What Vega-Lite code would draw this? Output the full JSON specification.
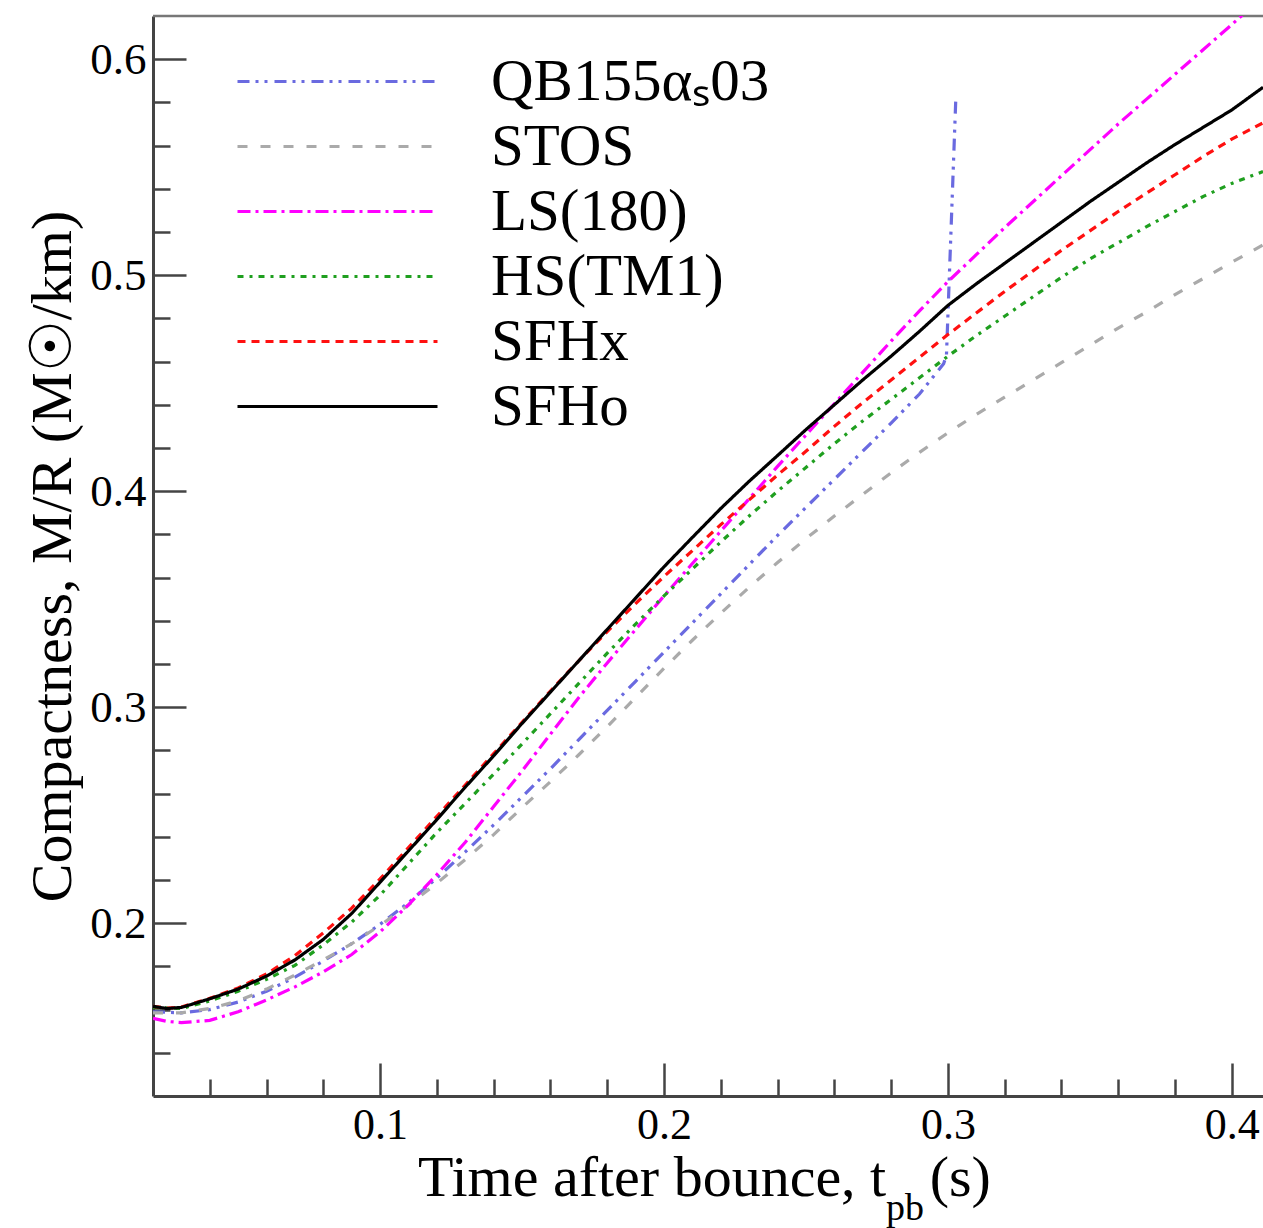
{
  "$schema": "https://vega.github.io/schema/vega-lite/v6.json",
  "width": 1110,
  "height": 1080,
  "autosize": {"type": "none"},
  "padding": {"left": 153, "top": 16, "right": 0, "bottom": 132},
  "background": "white",
  "config": {"view": {"stroke": null}, "font": "Liberation Serif"},
  "title": {"text": "pb", "orient": "bottom", "anchor": "start", "frame": "group", "fontSize": 38, "font": "Liberation Serif", "fontWeight": "normal", "color": "black", "dx": 733, "offset": 13, "baseline": "alphabetic"},
  "datasets": {
    "curves": [
      {"eos": "QB155αₛ03", "t": 0.02, "c": 0.1590}, {"eos": "QB155αₛ03", "t": 0.03, "c": 0.1585}, {"eos": "QB155αₛ03", "t": 0.04, "c": 0.1600}, {"eos": "QB155αₛ03", "t": 0.05, "c": 0.1635}, {"eos": "QB155αₛ03", "t": 0.06, "c": 0.1685}, {"eos": "QB155αₛ03", "t": 0.07, "c": 0.1750}, {"eos": "QB155αₛ03", "t": 0.08, "c": 0.1825}, {"eos": "QB155αₛ03", "t": 0.09, "c": 0.1905}, {"eos": "QB155αₛ03", "t": 0.10, "c": 0.1995}, {"eos": "QB155αₛ03", "t": 0.11, "c": 0.2095}, {"eos": "QB155αₛ03", "t": 0.12, "c": 0.2210}, {"eos": "QB155αₛ03", "t": 0.13, "c": 0.2330}, {"eos": "QB155αₛ03", "t": 0.14, "c": 0.2455}, {"eos": "QB155αₛ03", "t": 0.15, "c": 0.2585}, {"eos": "QB155αₛ03", "t": 0.16, "c": 0.2715}, {"eos": "QB155αₛ03", "t": 0.17, "c": 0.2850}, {"eos": "QB155αₛ03", "t": 0.18, "c": 0.2985}, {"eos": "QB155αₛ03", "t": 0.19, "c": 0.3120}, {"eos": "QB155αₛ03", "t": 0.20, "c": 0.3255}, {"eos": "QB155αₛ03", "t": 0.21, "c": 0.3390}, {"eos": "QB155αₛ03", "t": 0.22, "c": 0.3525}, {"eos": "QB155αₛ03", "t": 0.23, "c": 0.3660}, {"eos": "QB155αₛ03", "t": 0.24, "c": 0.3795}, {"eos": "QB155αₛ03", "t": 0.25, "c": 0.3925}, {"eos": "QB155αₛ03", "t": 0.26, "c": 0.4055}, {"eos": "QB155αₛ03", "t": 0.27, "c": 0.4185}, {"eos": "QB155αₛ03", "t": 0.28, "c": 0.4315}, {"eos": "QB155αₛ03", "t": 0.29, "c": 0.4450}, {"eos": "QB155αₛ03", "t": 0.2985, "c": 0.4590}, {"eos": "QB155αₛ03", "t": 0.2995, "c": 0.4630}, {"eos": "QB155αₛ03", "t": 0.3028, "c": 0.5820},
      {"eos": "STOS", "t": 0.02, "c": 0.1585}, {"eos": "STOS", "t": 0.03, "c": 0.1585}, {"eos": "STOS", "t": 0.04, "c": 0.1605}, {"eos": "STOS", "t": 0.05, "c": 0.1640}, {"eos": "STOS", "t": 0.06, "c": 0.1695}, {"eos": "STOS", "t": 0.07, "c": 0.1760}, {"eos": "STOS", "t": 0.08, "c": 0.1830}, {"eos": "STOS", "t": 0.09, "c": 0.1905}, {"eos": "STOS", "t": 0.10, "c": 0.1990}, {"eos": "STOS", "t": 0.11, "c": 0.2085}, {"eos": "STOS", "t": 0.12, "c": 0.2185}, {"eos": "STOS", "t": 0.13, "c": 0.2295}, {"eos": "STOS", "t": 0.14, "c": 0.2410}, {"eos": "STOS", "t": 0.15, "c": 0.2535}, {"eos": "STOS", "t": 0.16, "c": 0.2655}, {"eos": "STOS", "t": 0.17, "c": 0.2780}, {"eos": "STOS", "t": 0.18, "c": 0.2910}, {"eos": "STOS", "t": 0.19, "c": 0.3045}, {"eos": "STOS", "t": 0.20, "c": 0.3180}, {"eos": "STOS", "t": 0.21, "c": 0.3310}, {"eos": "STOS", "t": 0.22, "c": 0.3435}, {"eos": "STOS", "t": 0.23, "c": 0.3555}, {"eos": "STOS", "t": 0.24, "c": 0.3670}, {"eos": "STOS", "t": 0.25, "c": 0.3780}, {"eos": "STOS", "t": 0.26, "c": 0.3885}, {"eos": "STOS", "t": 0.27, "c": 0.3985}, {"eos": "STOS", "t": 0.28, "c": 0.4085}, {"eos": "STOS", "t": 0.29, "c": 0.4180}, {"eos": "STOS", "t": 0.30, "c": 0.4270}, {"eos": "STOS", "t": 0.31, "c": 0.4355}, {"eos": "STOS", "t": 0.32, "c": 0.4435}, {"eos": "STOS", "t": 0.33, "c": 0.4515}, {"eos": "STOS", "t": 0.34, "c": 0.4595}, {"eos": "STOS", "t": 0.35, "c": 0.4675}, {"eos": "STOS", "t": 0.36, "c": 0.4755}, {"eos": "STOS", "t": 0.37, "c": 0.4830}, {"eos": "STOS", "t": 0.38, "c": 0.4910}, {"eos": "STOS", "t": 0.39, "c": 0.4985}, {"eos": "STOS", "t": 0.40, "c": 0.5060}, {"eos": "STOS", "t": 0.411, "c": 0.5140},
      {"eos": "LS(180)", "t": 0.02, "c": 0.1560}, {"eos": "LS(180)", "t": 0.025, "c": 0.1545}, {"eos": "LS(180)", "t": 0.03, "c": 0.1540}, {"eos": "LS(180)", "t": 0.04, "c": 0.1550}, {"eos": "LS(180)", "t": 0.05, "c": 0.1590}, {"eos": "LS(180)", "t": 0.06, "c": 0.1645}, {"eos": "LS(180)", "t": 0.07, "c": 0.1705}, {"eos": "LS(180)", "t": 0.08, "c": 0.1775}, {"eos": "LS(180)", "t": 0.09, "c": 0.1855}, {"eos": "LS(180)", "t": 0.10, "c": 0.1960}, {"eos": "LS(180)", "t": 0.11, "c": 0.2085}, {"eos": "LS(180)", "t": 0.12, "c": 0.2225}, {"eos": "LS(180)", "t": 0.13, "c": 0.2375}, {"eos": "LS(180)", "t": 0.14, "c": 0.2540}, {"eos": "LS(180)", "t": 0.15, "c": 0.2705}, {"eos": "LS(180)", "t": 0.16, "c": 0.2875}, {"eos": "LS(180)", "t": 0.17, "c": 0.3045}, {"eos": "LS(180)", "t": 0.18, "c": 0.3205}, {"eos": "LS(180)", "t": 0.19, "c": 0.3360}, {"eos": "LS(180)", "t": 0.20, "c": 0.3515}, {"eos": "LS(180)", "t": 0.21, "c": 0.3665}, {"eos": "LS(180)", "t": 0.22, "c": 0.3815}, {"eos": "LS(180)", "t": 0.23, "c": 0.3965}, {"eos": "LS(180)", "t": 0.24, "c": 0.4115}, {"eos": "LS(180)", "t": 0.25, "c": 0.4260}, {"eos": "LS(180)", "t": 0.26, "c": 0.4405}, {"eos": "LS(180)", "t": 0.27, "c": 0.4550}, {"eos": "LS(180)", "t": 0.28, "c": 0.4695}, {"eos": "LS(180)", "t": 0.29, "c": 0.4835}, {"eos": "LS(180)", "t": 0.30, "c": 0.4970}, {"eos": "LS(180)", "t": 0.31, "c": 0.5095}, {"eos": "LS(180)", "t": 0.32, "c": 0.5220}, {"eos": "LS(180)", "t": 0.33, "c": 0.5340}, {"eos": "LS(180)", "t": 0.34, "c": 0.5460}, {"eos": "LS(180)", "t": 0.35, "c": 0.5580}, {"eos": "LS(180)", "t": 0.36, "c": 0.5700}, {"eos": "LS(180)", "t": 0.37, "c": 0.5815}, {"eos": "LS(180)", "t": 0.38, "c": 0.5930}, {"eos": "LS(180)", "t": 0.39, "c": 0.6045}, {"eos": "LS(180)", "t": 0.40, "c": 0.6160}, {"eos": "LS(180)", "t": 0.411, "c": 0.6290},
      {"eos": "HS(TM1)", "t": 0.02, "c": 0.1610}, {"eos": "HS(TM1)", "t": 0.03, "c": 0.1605}, {"eos": "HS(TM1)", "t": 0.04, "c": 0.1640}, {"eos": "HS(TM1)", "t": 0.05, "c": 0.1685}, {"eos": "HS(TM1)", "t": 0.06, "c": 0.1740}, {"eos": "HS(TM1)", "t": 0.07, "c": 0.1805}, {"eos": "HS(TM1)", "t": 0.08, "c": 0.1900}, {"eos": "HS(TM1)", "t": 0.09, "c": 0.2005}, {"eos": "HS(TM1)", "t": 0.10, "c": 0.2130}, {"eos": "HS(TM1)", "t": 0.11, "c": 0.2275}, {"eos": "HS(TM1)", "t": 0.12, "c": 0.2420}, {"eos": "HS(TM1)", "t": 0.13, "c": 0.2555}, {"eos": "HS(TM1)", "t": 0.14, "c": 0.2690}, {"eos": "HS(TM1)", "t": 0.15, "c": 0.2830}, {"eos": "HS(TM1)", "t": 0.16, "c": 0.2970}, {"eos": "HS(TM1)", "t": 0.17, "c": 0.3110}, {"eos": "HS(TM1)", "t": 0.18, "c": 0.3250}, {"eos": "HS(TM1)", "t": 0.19, "c": 0.3385}, {"eos": "HS(TM1)", "t": 0.20, "c": 0.3515}, {"eos": "HS(TM1)", "t": 0.21, "c": 0.3640}, {"eos": "HS(TM1)", "t": 0.22, "c": 0.3765}, {"eos": "HS(TM1)", "t": 0.23, "c": 0.3885}, {"eos": "HS(TM1)", "t": 0.24, "c": 0.4000}, {"eos": "HS(TM1)", "t": 0.25, "c": 0.4110}, {"eos": "HS(TM1)", "t": 0.26, "c": 0.4220}, {"eos": "HS(TM1)", "t": 0.27, "c": 0.4325}, {"eos": "HS(TM1)", "t": 0.28, "c": 0.4425}, {"eos": "HS(TM1)", "t": 0.29, "c": 0.4525}, {"eos": "HS(TM1)", "t": 0.30, "c": 0.4625}, {"eos": "HS(TM1)", "t": 0.31, "c": 0.4720}, {"eos": "HS(TM1)", "t": 0.32, "c": 0.4810}, {"eos": "HS(TM1)", "t": 0.33, "c": 0.4900}, {"eos": "HS(TM1)", "t": 0.34, "c": 0.4990}, {"eos": "HS(TM1)", "t": 0.35, "c": 0.5075}, {"eos": "HS(TM1)", "t": 0.36, "c": 0.5150}, {"eos": "HS(TM1)", "t": 0.37, "c": 0.5225}, {"eos": "HS(TM1)", "t": 0.38, "c": 0.5295}, {"eos": "HS(TM1)", "t": 0.39, "c": 0.5365}, {"eos": "HS(TM1)", "t": 0.40, "c": 0.5425}, {"eos": "HS(TM1)", "t": 0.411, "c": 0.5480},
      {"eos": "SFHx", "t": 0.02, "c": 0.1615}, {"eos": "SFHx", "t": 0.025, "c": 0.1607}, {"eos": "SFHx", "t": 0.03, "c": 0.1612}, {"eos": "SFHx", "t": 0.04, "c": 0.1652}, {"eos": "SFHx", "t": 0.05, "c": 0.1700}, {"eos": "SFHx", "t": 0.06, "c": 0.1765}, {"eos": "SFHx", "t": 0.07, "c": 0.1850}, {"eos": "SFHx", "t": 0.08, "c": 0.1955}, {"eos": "SFHx", "t": 0.09, "c": 0.2070}, {"eos": "SFHx", "t": 0.10, "c": 0.2205}, {"eos": "SFHx", "t": 0.11, "c": 0.2350}, {"eos": "SFHx", "t": 0.12, "c": 0.2495}, {"eos": "SFHx", "t": 0.13, "c": 0.2640}, {"eos": "SFHx", "t": 0.14, "c": 0.2785}, {"eos": "SFHx", "t": 0.15, "c": 0.2930}, {"eos": "SFHx", "t": 0.16, "c": 0.3075}, {"eos": "SFHx", "t": 0.17, "c": 0.3215}, {"eos": "SFHx", "t": 0.18, "c": 0.3350}, {"eos": "SFHx", "t": 0.19, "c": 0.3480}, {"eos": "SFHx", "t": 0.20, "c": 0.3605}, {"eos": "SFHx", "t": 0.21, "c": 0.3725}, {"eos": "SFHx", "t": 0.22, "c": 0.3845}, {"eos": "SFHx", "t": 0.23, "c": 0.3960}, {"eos": "SFHx", "t": 0.24, "c": 0.4075}, {"eos": "SFHx", "t": 0.25, "c": 0.4185}, {"eos": "SFHx", "t": 0.26, "c": 0.4300}, {"eos": "SFHx", "t": 0.27, "c": 0.4410}, {"eos": "SFHx", "t": 0.28, "c": 0.4515}, {"eos": "SFHx", "t": 0.29, "c": 0.4620}, {"eos": "SFHx", "t": 0.30, "c": 0.4725}, {"eos": "SFHx", "t": 0.31, "c": 0.4825}, {"eos": "SFHx", "t": 0.32, "c": 0.4925}, {"eos": "SFHx", "t": 0.33, "c": 0.5020}, {"eos": "SFHx", "t": 0.34, "c": 0.5115}, {"eos": "SFHx", "t": 0.35, "c": 0.5205}, {"eos": "SFHx", "t": 0.36, "c": 0.5295}, {"eos": "SFHx", "t": 0.37, "c": 0.5380}, {"eos": "SFHx", "t": 0.38, "c": 0.5465}, {"eos": "SFHx", "t": 0.39, "c": 0.5550}, {"eos": "SFHx", "t": 0.40, "c": 0.5630}, {"eos": "SFHx", "t": 0.411, "c": 0.5705},
      {"eos": "SFHo", "t": 0.02, "c": 0.1615}, {"eos": "SFHo", "t": 0.025, "c": 0.1605}, {"eos": "SFHo", "t": 0.03, "c": 0.1610}, {"eos": "SFHo", "t": 0.04, "c": 0.1650}, {"eos": "SFHo", "t": 0.05, "c": 0.1695}, {"eos": "SFHo", "t": 0.06, "c": 0.1755}, {"eos": "SFHo", "t": 0.07, "c": 0.1830}, {"eos": "SFHo", "t": 0.08, "c": 0.1925}, {"eos": "SFHo", "t": 0.09, "c": 0.2045}, {"eos": "SFHo", "t": 0.10, "c": 0.2190}, {"eos": "SFHo", "t": 0.11, "c": 0.2335}, {"eos": "SFHo", "t": 0.12, "c": 0.2480}, {"eos": "SFHo", "t": 0.13, "c": 0.2630}, {"eos": "SFHo", "t": 0.14, "c": 0.2775}, {"eos": "SFHo", "t": 0.15, "c": 0.2925}, {"eos": "SFHo", "t": 0.16, "c": 0.3070}, {"eos": "SFHo", "t": 0.17, "c": 0.3215}, {"eos": "SFHo", "t": 0.18, "c": 0.3360}, {"eos": "SFHo", "t": 0.19, "c": 0.3505}, {"eos": "SFHo", "t": 0.20, "c": 0.3650}, {"eos": "SFHo", "t": 0.21, "c": 0.3786}, {"eos": "SFHo", "t": 0.22, "c": 0.3920}, {"eos": "SFHo", "t": 0.23, "c": 0.4046}, {"eos": "SFHo", "t": 0.24, "c": 0.4165}, {"eos": "SFHo", "t": 0.25, "c": 0.4285}, {"eos": "SFHo", "t": 0.26, "c": 0.4400}, {"eos": "SFHo", "t": 0.27, "c": 0.4515}, {"eos": "SFHo", "t": 0.28, "c": 0.4625}, {"eos": "SFHo", "t": 0.29, "c": 0.4740}, {"eos": "SFHo", "t": 0.30, "c": 0.4860}, {"eos": "SFHo", "t": 0.31, "c": 0.4960}, {"eos": "SFHo", "t": 0.32, "c": 0.5055}, {"eos": "SFHo", "t": 0.33, "c": 0.5150}, {"eos": "SFHo", "t": 0.34, "c": 0.5245}, {"eos": "SFHo", "t": 0.35, "c": 0.5340}, {"eos": "SFHo", "t": 0.36, "c": 0.5430}, {"eos": "SFHo", "t": 0.37, "c": 0.5520}, {"eos": "SFHo", "t": 0.38, "c": 0.5605}, {"eos": "SFHo", "t": 0.39, "c": 0.5685}, {"eos": "SFHo", "t": 0.40, "c": 0.5765}, {"eos": "SFHo", "t": 0.411, "c": 0.5870}
    ],
    "frame": [{"edge": "top"}]
  },
  "layer": [
    {
      "data": {"name": "frame"},
      "mark": {"type": "rule", "color": "#777777", "strokeWidth": 2.5},
      "encoding": {"y": {"datum": 0.62, "type": "quantitative"}}
    },
    {
      "data": {"name": "curves"},
      "mark": {"type": "line", "strokeWidth": 3.2, "clip": true},
      "encoding": {
        "x": {
          "field": "t", "type": "quantitative",
          "scale": {"domain": [0.02, 0.411], "nice": false, "zero": false},
          "axis": {
            "values": [0.04, 0.06, 0.08, 0.1, 0.12, 0.14, 0.16, 0.18, 0.2, 0.22, 0.24, 0.26, 0.28, 0.3, 0.32, 0.34, 0.36, 0.38, 0.4],
            "labelExpr": "abs(datum.value*10 - round(datum.value*10)) < 0.001 ? format(datum.value, '.1f') : ''",
            "tickSize": {"condition": {"test": "abs(datum.value*10 - round(datum.value*10)) < 0.001", "value": -33}, "value": -17},
            "tickColor": "#444444", "tickWidth": 2.5,
            "domainColor": "#444444", "domainWidth": 3,
            "grid": false,
            "labelFont": "Liberation Serif", "labelFontSize": 44, "labelColor": "black",
            "labelPadding": 40, "labelFlush": false, "labelOverlap": false,
            "title": "Time after bounce, t\u00a0\u00a0\u00a0(s)",
            "titleFont": "Liberation Serif", "titleFontSize": 58, "titleFontWeight": "normal", "titleColor": "black",
            "titleX": 551, "titleY": 99, "titleAlign": "center", "titleBaseline": "alphabetic", "titleAnchor": null
          }
        },
        "y": {
          "field": "c", "type": "quantitative",
          "scale": {"domain": [0.12, 0.62], "nice": false, "zero": false},
          "axis": {
            "values": [0.14, 0.16, 0.18, 0.2, 0.22, 0.24, 0.26, 0.28, 0.3, 0.32, 0.34, 0.36, 0.38, 0.4, 0.42, 0.44, 0.46, 0.48, 0.5, 0.52, 0.54, 0.56, 0.58, 0.6],
            "labelExpr": "abs(datum.value*10 - round(datum.value*10)) < 0.001 ? format(datum.value, '.1f') : ''",
            "tickSize": {"condition": {"test": "abs(datum.value*10 - round(datum.value*10)) < 0.001", "value": -33}, "value": -17},
            "tickColor": "#444444", "tickWidth": 2.5,
            "domainColor": "#444444", "domainWidth": 3,
            "grid": false,
            "labelFont": "Liberation Serif", "labelFontSize": 45, "labelColor": "black",
            "labelPadding": 40, "labelFlush": false, "labelOverlap": false,
            "title": "Compactness, M/R (M☉/km)",
            "titleFont": "Liberation Serif", "titleFontSize": 58, "titleFontWeight": "normal", "titleColor": "black",
            "titleX": -83, "titleY": 540, "titleAngle": -90, "titleAlign": "center", "titleBaseline": "alphabetic", "titleAnchor": null
          }
        },
        "color": {
          "field": "eos", "type": "nominal",
          "scale": {"domain": ["QB155αₛ03", "STOS", "LS(180)", "HS(TM1)", "SFHx", "SFHo"], "range": ["#6a6ae0", "#aaaaaa", "#ff00ff", "#1f9f1f", "#ff1010", "#000000"]},
          "legend": {
            "orient": "none", "legendX": 155, "legendY": 36, "title": null, "padding": 0,
            "symbolType": "M-5,0H5", "symbolSize": 1600, "symbolStrokeWidth": 3,
            "labelFont": "Liberation Serif", "labelFontSize": 59, "labelColor": "black",
            "labelOffset": 124, "rowPadding": 5, "labelLimit": 0
          }
        },
        "strokeDash": {
          "field": "eos", "type": "nominal",
          "scale": {"domain": ["QB155αₛ03", "STOS", "LS(180)", "HS(TM1)", "SFHx", "SFHo"], "range": [[12, 6, 3, 6, 3, 7], [10, 13], [13, 5, 3, 5], [6, 6, 3, 6], [8, 6], [1, 0]]},
          "legend": {
            "orient": "none", "legendX": 155, "legendY": 36, "title": null, "padding": 0,
            "symbolType": "M-5,0H5", "symbolSize": 1600, "symbolStrokeWidth": 3,
            "labelFont": "Liberation Serif", "labelFontSize": 59, "labelColor": "black",
            "labelOffset": 124, "rowPadding": 5, "labelLimit": 0
          }
        }
      }
    }
  ]
}
